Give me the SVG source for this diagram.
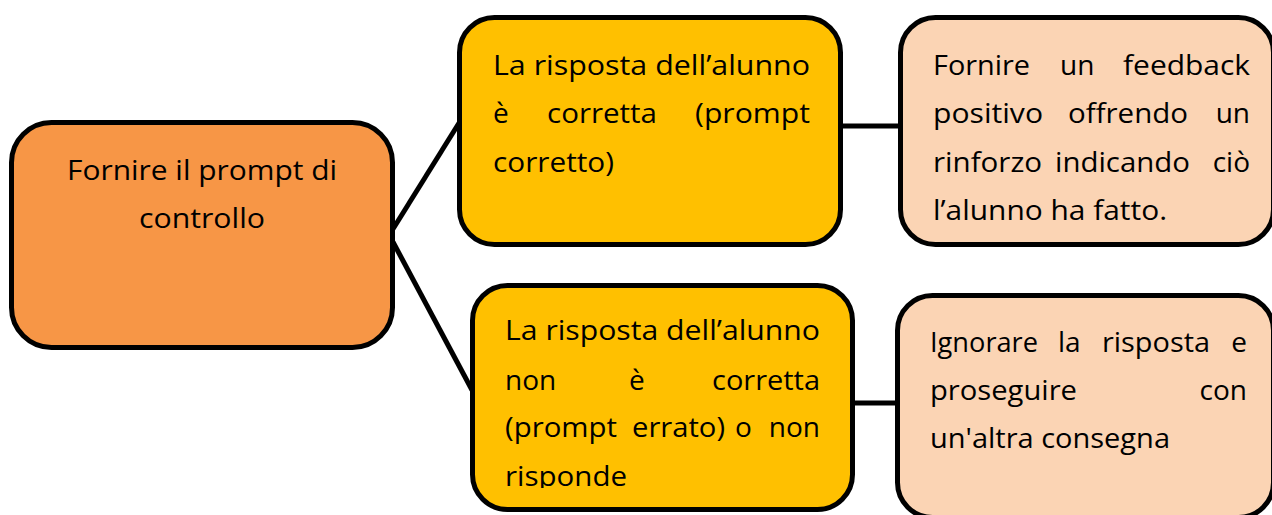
<svg xmlns="http://www.w3.org/2000/svg" width="1272" height="515" viewBox="0 0 1272 515">
<style>
.box{stroke:#000;stroke-width:5}
.c1{fill:#F79646}
.c2{fill:#FFC000}
.c3{fill:#FBD4B4}
.t{font-family:"Segoe UI","Open Sans","Liberation Sans",sans-serif;font-size:28px;fill:#000}
.e{text-anchor:end}
.ln{stroke:#000;stroke-width:5;fill:none}
</style>
<defs>
<clipPath id="clipB"><rect x="470" y="283" width="390" height="205"/></clipPath>
</defs>
<rect width="1272" height="515" fill="#fff"/>
<g id="connectors">
<line class="ln" x1="393" y1="229" x2="459" y2="123"/>
<line class="ln" x1="393" y1="242" x2="472" y2="390"/>
<line class="ln" x1="841" y1="126" x2="901" y2="126"/>
<line class="ln" x1="853" y1="403" x2="898" y2="403"/>
</g>
<g id="node-start">
<rect class="box c1" x="11.5" y="122.5" width="381" height="225" rx="40"/>
<text class="t" x="67" y="180" textLength="270" lengthAdjust="spacingAndGlyphs">Fornire il prompt di</text>
<text class="t" x="139" y="228" textLength="126" lengthAdjust="spacingAndGlyphs">controllo</text>
</g>
<g id="node-correct">
<rect class="box c2" x="459.5" y="17.5" width="381" height="227" rx="35"/>
<text class="t" x="493" y="75" textLength="317" lengthAdjust="spacingAndGlyphs">La risposta dell’alunno</text>
<text class="t" x="493" y="123">è</text>
<text class="t" x="547" y="123" textLength="110" lengthAdjust="spacingAndGlyphs">corretta</text>
<text class="t" x="695" y="123" textLength="115" lengthAdjust="spacingAndGlyphs">(prompt</text>
<text class="t" x="493" y="172" textLength="121" lengthAdjust="spacingAndGlyphs">corretto)</text>
</g>
<g id="node-feedback">
<rect class="box c3" x="900.5" y="17.5" width="373" height="227" rx="35"/>
<text class="t" x="933" y="75" textLength="97" lengthAdjust="spacingAndGlyphs">Fornire</text>
<text class="t" x="1060" y="75">un</text>
<text class="t" x="1123" y="75" textLength="127" lengthAdjust="spacingAndGlyphs">feedback</text>
<text class="t" x="933" y="123" textLength="110" lengthAdjust="spacingAndGlyphs">positivo</text>
<text class="t" x="1068" y="123" textLength="120" lengthAdjust="spacingAndGlyphs">offrendo</text>
<text class="t e" x="1250" y="123">un</text>
<text class="t" x="933" y="172" textLength="109" lengthAdjust="spacingAndGlyphs">rinforzo</text>
<text class="t" x="1055" y="172" textLength="135" lengthAdjust="spacingAndGlyphs">indicando</text>
<text class="t e" x="1250" y="172">ciò</text>
<text class="t" x="933" y="220" textLength="234" lengthAdjust="spacingAndGlyphs">l’alunno ha fatto.</text>
</g>
<g id="node-wrong">
<rect class="box c2" x="472.5" y="285.5" width="380" height="224" rx="35"/>
<text class="t" x="505" y="340" textLength="315" lengthAdjust="spacingAndGlyphs">La risposta dell’alunno</text>
<text class="t" x="505" y="390">non</text>
<text class="t" x="629" y="390">è</text>
<text class="t" x="712" y="390" textLength="108" lengthAdjust="spacingAndGlyphs">corretta</text>
<text class="t" x="505" y="437" textLength="112" lengthAdjust="spacingAndGlyphs">(prompt</text>
<text class="t" x="632" y="437" textLength="93" lengthAdjust="spacingAndGlyphs">errato)</text>
<text class="t" x="735" y="437">o</text>
<text class="t e" x="820" y="437">non</text>
<text class="t" x="505" y="486" textLength="122" lengthAdjust="spacingAndGlyphs" clip-path="url(#clipB)">risponde</text>
</g>
<g id="node-ignore">
<rect class="box c3" x="897.5" y="295.5" width="376" height="222" rx="35"/>
<text class="t" x="930" y="352" textLength="108" lengthAdjust="spacingAndGlyphs">Ignorare</text>
<text class="t" x="1058" y="352">la</text>
<text class="t" x="1102" y="352" textLength="108" lengthAdjust="spacingAndGlyphs">risposta</text>
<text class="t e" x="1247" y="352">e</text>
<text class="t" x="930" y="400" textLength="147" lengthAdjust="spacingAndGlyphs">proseguire</text>
<text class="t e" x="1247" y="400">con</text>
<text class="t" x="930" y="448" textLength="240" lengthAdjust="spacingAndGlyphs">un'altra consegna</text>
</g>
</svg>
